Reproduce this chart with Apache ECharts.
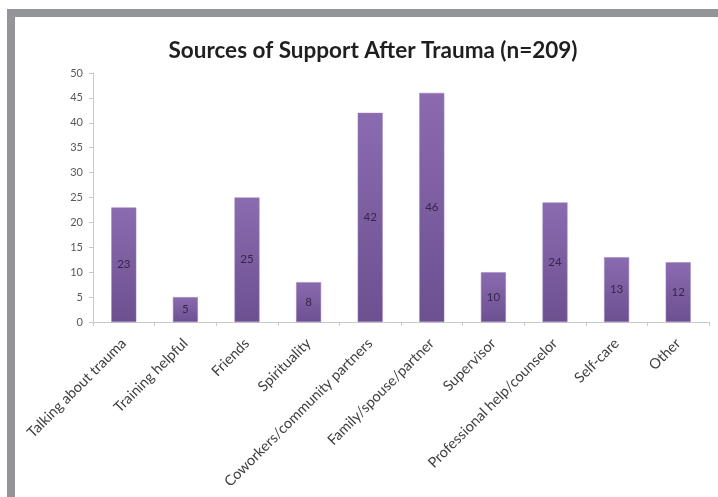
<!DOCTYPE html>
<html>
<head>
<meta charset="utf-8">
<script src="https://cdn.jsdelivr.net/npm/echarts@6/dist/echarts.min.js"></script>
<style>
html,body{margin:0;padding:0;background:#fff;}
#chart{width:718px;height:497px;}
</style>
</head>
<body>
<div id="chart"></div>
<script>
const categories = ['Talking about trauma','Training helpful','Friends','Spirituality','Coworkers/community partners','Family/spouse/partner','Supervisor','Professional help/counselor','Self-care','Other'];
const values = [23, 5, 25, 8, 42, 46, 10, 24, 13, 12];
const yTicks = [0, 5, 10, 15, 20, 25, 30, 35, 40, 45, 50];

const chart = echarts.init(document.getElementById('chart'), null, {renderer:'canvas'});
chart.setOption({
  backgroundColor: '#ffffff',
  animation: false,
  title: {
    text: 'Sources of Support After Trauma (n=209)',
    left: 368, top: 34, textAlign: 'center',
    textStyle: {fontFamily: 'Lato', fontWeight: 'bold', fontSize: 22.5, color: '#1f1f1f'}
  },
  graphic: [
    {type:'rect', shape:{x:7, y:9, width:711, height:8}, style:{fill:'#939598'}, silent:true},
    {type:'rect', shape:{x:7, y:9, width:8, height:488}, style:{fill:'#939598'}, silent:true}
  ],
  grid: {left: 93, right: 9, top: 73, bottom: 175, containLabel: false},
  xAxis: {
    type: 'category',
    data: categories,
    axisLine: {show: true, lineStyle: {color: '#c8c8c8', width: 1}},
    axisTick: {show: true, length: 4, lineStyle: {color: '#c8c8c8'}},
    axisLabel: {rotate: 45, interval: 0, margin: 19, fontFamily: 'Lato', fontSize: 14.5, color: '#404040'}
  },
  yAxis: {
    type: 'value',
    min: 0, max: 50, interval: 5,
    splitLine: {show: false},
    axisLine: {show: true, lineStyle: {color: '#c8c8c8', width: 1}},
    axisTick: {show: true, length: 4, lineStyle: {color: '#c8c8c8'}},
    axisLabel: {margin: 10, fontFamily: 'Lato', fontSize: 11, color: '#595959',
      formatter: v => yTicks.includes(v) ? String(v) : ''}
  },
  series: [{
    type: 'bar',
    data: values,
    barWidth: 25,
    itemStyle: {
      color: new echarts.graphic.LinearGradient(0, 0, 0, 1, [
        {offset: 0, color: '#8b6bb0'},
        {offset: 1, color: '#6c5090'}
      ]),
      borderColor: '#9b80bd', borderWidth: 0.5
    },
    label: {show: true, position: 'inside', fontFamily: 'Lato', fontSize: 11.5, color: '#35254d'}
  }]
});
</script>
</body>
</html>
